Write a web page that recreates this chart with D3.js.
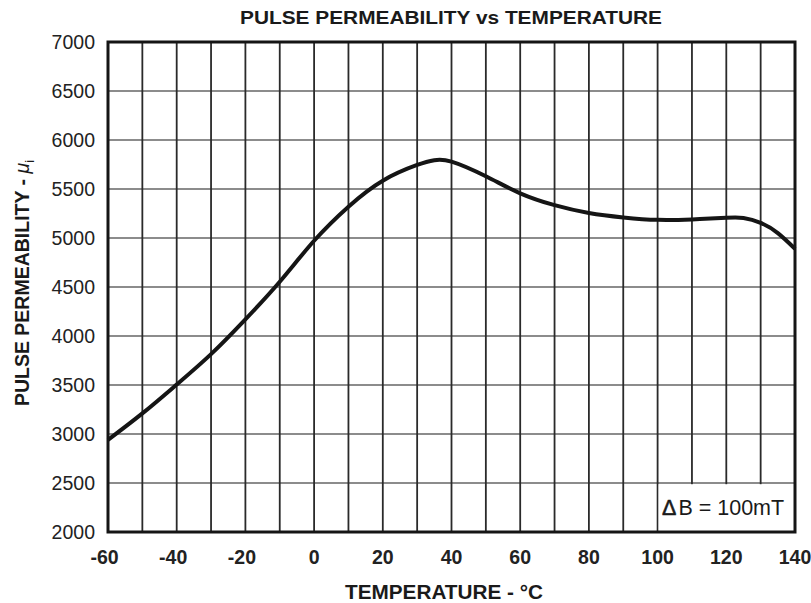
<!DOCTYPE html>
<html><head><meta charset="utf-8">
<script src="https://cdn.jsdelivr.net/npm/d3@7/dist/d3.min.js"></script>
<style>body{margin:0;background:#fff;}svg{display:block;font-family:"Liberation Sans",Arial,Helvetica,sans-serif;}</style>
</head><body>
<svg id="c" width="811" height="603"></svg>
<script>
const temperatures = [-60,-50,-40,-30,-20,-10,0,10,20,30,35,40,50,60,70,80,90,100,110,120,125,130,135,140];
const permeability = [2940,3210,3505,3815,4170,4554,4972,5320,5585,5745,5794,5779,5630,5456,5335,5255,5210,5185,5190,5207,5205,5155,5050,4890];
const yTickValues = [2000,2500,3000,3500,4000,4500,5000,5500,6000,6500,7000];
const xTickValues = [-60,-40,-20,0,20,40,60,80,100,120,140];
const xGridValues = d3.range(-60,141,10);
const titleText = "PULSE PERMEABILITY vs TEMPERATURE";
const xTitleText = "TEMPERATURE - °C";
const legendDelta = "\u0394";
const legendText = "B = 100mT";

const svg = d3.select("#c");
const L=108, R=795, T=42, B=532;
const x = d3.scaleLinear().domain([-60,140]).range([L,R]);
const y = d3.scaleLinear().domain([2000,7000]).range([B,T]);

// horizontal gridlines
svg.append("g").selectAll("line").data(yTickValues).join("line")
  .attr("x1",L).attr("x2",R).attr("y1",d=>y(d)).attr("y2",d=>y(d))
  .attr("stroke","#8c8c8c").attr("stroke-width",2.2);
// vertical gridlines
svg.append("g").selectAll("line").data(xGridValues).join("line")
  .attr("x1",d=>x(d)).attr("x2",d=>x(d)).attr("y1",T).attr("y2",B)
  .attr("stroke","#2a2a2a").attr("stroke-width",1.8);

// legend box (white area covering grid)
svg.append("rect").attr("x",x(100)+1).attr("y",y(2500)+1.2)
  .attr("width",R-x(100)-1).attr("height",B-y(2500)-1.2).attr("fill","#fff");
const lg = svg.append("text").attr("x",662).attr("y",515)
  .attr("font-size",21.5).attr("fill","#1a1a1a");
lg.append("tspan").attr("stroke","#1a1a1a").attr("stroke-width",0.6).text(legendDelta);
lg.append("tspan").attr("dx",2).text(legendText);

// curve
const line = d3.line().x((d,i)=>x(temperatures[i])).y(d=>y(d)).curve(d3.curveNatural);
svg.append("path").datum(permeability).attr("d",line)
  .attr("fill","none").attr("stroke","#151515").attr("stroke-width",4).attr("stroke-linejoin","round");

// frame
svg.append("rect").attr("x",L).attr("y",T).attr("width",R-L).attr("height",B-T)
  .attr("fill","none").attr("stroke","#151515").attr("stroke-width",3);

// y tick labels
svg.append("g").selectAll("text").data(yTickValues).join("text")
  .attr("x",95).attr("y",d=>y(d)+7).attr("text-anchor","end")
  .attr("font-size",19.5).attr("fill","#222").text(d=>d);
// x tick labels
svg.append("g").selectAll("text").data(xTickValues).join("text")
  .attr("x",d=>x(d)+(d<0?-3.5:0)).attr("y",564).attr("text-anchor","middle")
  .attr("font-size",19.5).attr("font-weight","bold").attr("fill","#222").text(d=>d);

// title
svg.append("text").attr("x",451).attr("y",24).attr("text-anchor","middle")
  .attr("font-size",18.5).attr("font-weight","bold").attr("fill","#1a1a1a")
  .attr("textLength",422).attr("lengthAdjust","spacingAndGlyphs").text(titleText);
// x title
svg.append("text").attr("x",444).attr("y",599).attr("text-anchor","middle")
  .attr("font-size",19.5).attr("font-weight","bold").attr("fill","#1a1a1a")
  .attr("textLength",198).attr("lengthAdjust","spacingAndGlyphs").text(xTitleText);
// y title
const yt = svg.append("text").attr("transform","translate(29,283) rotate(-90)")
  .attr("text-anchor","middle").attr("font-size",19.5).attr("font-weight","bold").attr("fill","#1a1a1a");
yt.append("tspan").text("PULSE PERMEABILITY - ");
yt.append("tspan").attr("font-style","italic").attr("font-weight","normal").text("\u03bc");
yt.append("tspan").attr("font-size",13).attr("dy",5).attr("font-weight","normal").text("i");
</script>
</body></html>
